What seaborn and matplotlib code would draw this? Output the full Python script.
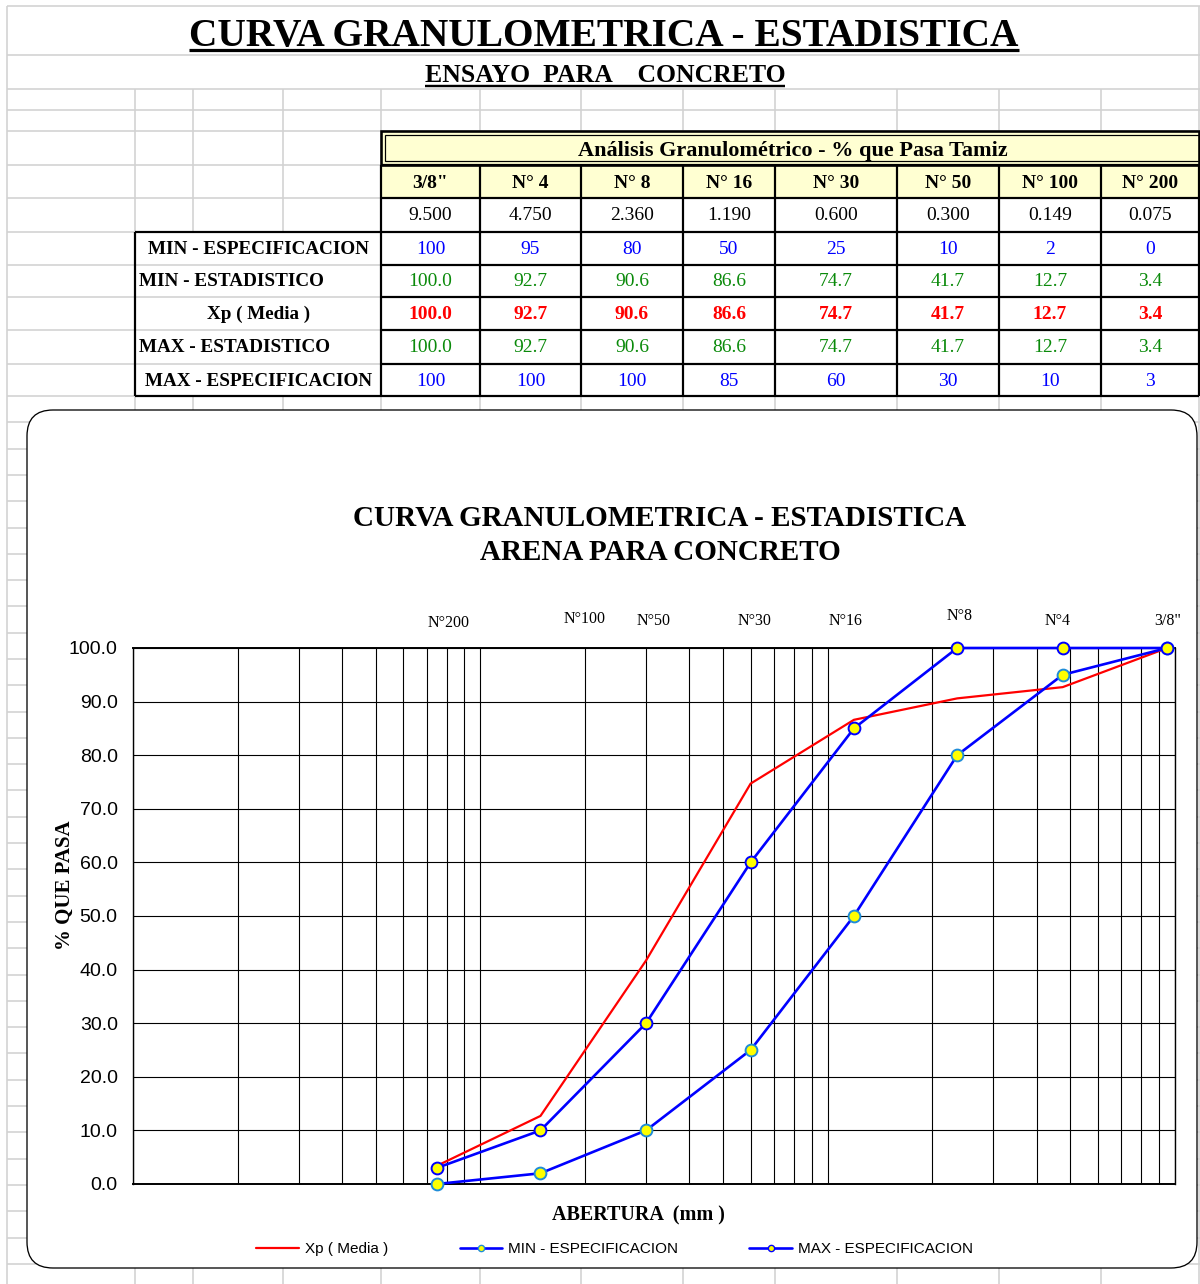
import numpy as np
import pandas as pd
import matplotlib
matplotlib.use("Agg")
import matplotlib.pyplot as plt
import seaborn as sns
from matplotlib.patches import FancyBboxPatch, Rectangle
from matplotlib.lines import Line2D
from matplotlib.ticker import LogLocator, NullFormatter, FormatStrFormatter

# ---------------- data ----------------
sieve_names = ['3/8"', 'N° 4', 'N° 8', 'N° 16', 'N° 30', 'N° 50', 'N° 100', 'N° 200']
chart_sieve_labels = ['3/8"', 'N°4', 'N°8', 'N°16', 'N°30', 'N°50', 'N°100', 'N°200']
abertura_mm = [9.500, 4.750, 2.360, 1.190, 0.600, 0.300, 0.149, 0.075]
min_especificacion = [100, 95, 80, 50, 25, 10, 2, 0]
min_estadistico = [100.0, 92.7, 90.6, 86.6, 74.7, 41.7, 12.7, 3.4]
xp_media = [100.0, 92.7, 90.6, 86.6, 74.7, 41.7, 12.7, 3.4]
max_estadistico = [100.0, 92.7, 90.6, 86.6, 74.7, 41.7, 12.7, 3.4]
max_especificacion = [100, 100, 100, 85, 60, 30, 10, 3]
y_ticks = [0, 10, 20, 30, 40, 50, 60, 70, 80, 90, 100]
row_labels = ['MIN - ESPECIFICACION', 'MIN - ESTADISTICO', 'Xp ( Media )',
              'MAX - ESTADISTICO', 'MAX - ESPECIFICACION']

# label placement tweaks (pixels) for the sieve names above the chart
label_dx = [0, -5, 2, -8, 4, 8, 44, 12]
label_dy = [0, 0, 5, 0, 0, 0, 2, -2]

SERIF = ['Liberation Serif', 'DejaVu Serif']
SANS = ['Liberation Sans', 'DejaVu Sans']

sns.set_style('white')
plt.rcParams['font.family'] = SANS
plt.rcParams['text.color'] = 'black'
plt.rcParams['axes.labelcolor'] = 'black'
plt.rcParams['xtick.color'] = 'black'
plt.rcParams['ytick.color'] = 'black'

W, H = 1200, 1284
fig = plt.figure(figsize=(12, 12.84), dpi=100)
bg = fig.add_axes([0, 0, 1, 1])
bg.set_xlim(0, W)
bg.set_ylim(H, 0)
bg.axis('off')

GRAY = '#d2d2d2'
PX = 0.72  # points per pixel


def hl(y, x0, x1, c=GRAY, lw=1.6, z=1):
    bg.plot([x0, x1], [y, y], color=c, lw=lw * PX, zorder=z, solid_capstyle='butt')


def vl(x, y0, y1, c=GRAY, lw=1.6, z=1):
    bg.plot([x, x], [y0, y1], color=c, lw=lw * PX, zorder=z, solid_capstyle='butt')


# ---------------- spreadsheet grid ----------------
cols_all = [135, 193, 283, 381, 480, 581, 683, 775, 897, 999, 1101]
hl(6, 7, W)
for y in [55, 89, 110, 131]:
    hl(y, 7, W)
for y in [165, 198, 232]:
    hl(y, 7, 381)
for y in [265, 297, 330, 364]:
    hl(y, 7, 135)
vl(7, 6, H)
vl(1199, 6, H)
for x in cols_all:
    vl(x, 89, 131)
for x in [135, 193, 283]:
    vl(x, 131, 232)
y = 396.0
while y < H:
    hl(y, 7, W)
    y += 26.3
for x in cols_all:
    vl(x, 396, H)

# ---------------- titles ----------------
t1 = bg.text(604, 46, 'CURVA GRANULOMETRICA - ESTADISTICA', ha='center', va='baseline',
             fontsize=28.4, fontweight='bold', family=SERIF, zorder=5)
t2 = bg.text(605, 82, 'ENSAYO  PARA    CONCRETO', ha='center', va='baseline',
             fontsize=18.5, fontweight='bold', family=SERIF, zorder=5)

# ---------------- table ----------------
cols = [381, 480, 581, 683, 775, 897, 999, 1101, 1199]
rows_y = [131, 165, 198, 232, 265, 297, 330, 364, 396]
YELLOW = '#FFFFD2'
bg.add_patch(Rectangle((381, 131), 1199 - 381, 198 - 131, fc=YELLOW, ec='none', zorder=2))
# double border header
bg.add_patch(Rectangle((381, 131), 1199 - 381, 34, fc='none', ec='black', lw=2.6 * PX, zorder=4))
bg.add_patch(Rectangle((385, 135), 1199 - 385, 26, fc='none', ec='black', lw=1.2 * PX, zorder=4))
bg.text(793, 151, 'Análisis Granulométrico - % que Pasa Tamiz', ha='center', va='center',
        fontsize=16, fontweight='bold', family=SERIF, zorder=5)
BL = 2.2
for y in [165, 198, 232, 265, 297, 330, 364, 396]:
    hl(y, 381, 1199, c='black', lw=BL, z=4)
for x in cols:
    vl(x, 165, 396, c='black', lw=BL, z=4)
# label column box
hl(232, 135, 381, c='black', lw=BL, z=4)
hl(396, 135, 381, c='black', lw=BL, z=4)
vl(135, 232, 396, c='black', lw=BL, z=4)
for y in [265, 297, 330, 364]:
    hl(y, 135, 381, c=GRAY, lw=1.6, z=3)

centers = [(cols[i] + cols[i + 1]) / 2 for i in range(8)]
for cx, nm, d in zip(centers, sieve_names, abertura_mm):
    bg.text(cx, 183, nm, ha='center', va='center', fontsize=14, fontweight='bold', family=SERIF, zorder=5)
    bg.text(cx, 216, f'{d:.3f}', ha='center', va='center', fontsize=14, family=SERIF, zorder=5)

row_series = [min_especificacion, min_estadistico, xp_media, max_estadistico, max_especificacion]
row_fmt = ['{:.0f}', '{:.1f}', '{:.1f}', '{:.1f}', '{:.0f}']
row_col = ['#0000FF', '#0A8A0A', '#FF0000', '#0A8A0A', '#0000FF']
row_bold = ['normal', 'normal', 'bold', 'normal', 'normal']
label_ha = ['center', 'left', 'center', 'left', 'center']
for i in range(5):
    yc = (rows_y[i + 3] + rows_y[i + 4]) / 2 + 1
    lx = 259 if label_ha[i] == 'center' else 139
    bg.text(lx, yc, row_labels[i], ha=label_ha[i], va='center', fontsize=13.8, fontweight='bold',
            family=SERIF, zorder=5)
    for cx, v in zip(centers, row_series[i]):
        bg.text(cx, yc, row_fmt[i].format(v), ha='center', va='center', fontsize=14,
                fontweight=row_bold[i], color=row_col[i], family=SERIF, zorder=5)

# ---------------- chart area box ----------------
bg.add_patch(FancyBboxPatch((27, 410), 1170, 858, boxstyle='round,pad=0,rounding_size=26',
                            fc='white', ec='black', lw=1.3 * PX, zorder=6))
bg.text(660, 518, 'CURVA GRANULOMETRICA - ESTADISTICA', ha='center', va='center',
        fontsize=21, fontweight='bold', family=SERIF, zorder=7)
bg.text(660, 552, 'ARENA PARA CONCRETO', ha='center', va='center',
        fontsize=21, fontweight='bold', family=SERIF, zorder=7)

# ---------------- chart ----------------
L, R, T, B = 133, 1175, 648, 1184
ax = fig.add_axes([L / W, 1 - B / H, (R - L) / W, (B - T) / H])
ax.set_zorder(10)
ax.set_facecolor('white')
ax.set_xscale('log')
ax.set_xlim(0.01, 10)
ax.set_ylim(0, 100)
ax.xaxis.set_major_locator(LogLocator(base=10))
ax.xaxis.set_minor_locator(LogLocator(base=10, subs=np.arange(2, 10)))
ax.xaxis.set_major_formatter(NullFormatter())
ax.xaxis.set_minor_formatter(NullFormatter())
ax.tick_params(axis='x', which='both', length=0)
ax.set_yticks(y_ticks)
ax.yaxis.set_major_formatter(FormatStrFormatter('%.1f'))
ax.tick_params(axis='y', length=5, width=0.8, direction='out', color='black',
               labelsize=14, pad=6, labelcolor='black')
for lab in ax.get_yticklabels():
    lab.set_family(SANS)
ax.grid(True, which='both', axis='x', color='black', lw=0.8)
ax.grid(True, which='major', axis='y', color='black', lw=0.8)
for s in ax.spines.values():
    s.set_color('black')
    s.set_linewidth(1.0)
ax.spines['bottom'].set_linewidth(1.4)
ax.spines['top'].set_linewidth(1.4)

MIN_EDGE = '#1E8CD8'
sns.lineplot(x=abertura_mm, y=xp_media, ax=ax, color='#FF0000', lw=1.6, zorder=3,
             clip_on=False, legend=False)
sns.lineplot(x=abertura_mm, y=min_especificacion, ax=ax, color='#0000FF', lw=1.9, zorder=4,
             marker='o', markersize=8.5, markerfacecolor='#FFFF00', markeredgecolor=MIN_EDGE,
             markeredgewidth=1.4, clip_on=False, legend=False)
sns.lineplot(x=abertura_mm, y=max_especificacion, ax=ax, color='#0000FF', lw=1.9, zorder=5,
             marker='o', markersize=8.5, markerfacecolor='#FFFF00', markeredgecolor='#0000FF',
             markeredgewidth=1.4, clip_on=False, legend=False)

for d, lab, dx, dy in zip(abertura_mm, chart_sieve_labels, label_dx, label_dy):
    ax.annotate(lab, xy=(d, 1.0), xycoords=('data', 'axes fraction'), xytext=(dx, 27 + dy),
                textcoords='offset pixels', ha='center', va='center', fontsize=11.5,
                family=SERIF, annotation_clip=False)

ax.set_ylabel('% QUE PASA', fontsize=15, fontweight='bold', family=SERIF)
ax.yaxis.set_label_coords((75 - L) / (R - L), (B - 885) / (B - T))
ax.set_xlabel('ABERTURA  (mm )', fontsize=14.5, fontweight='bold', family=SERIF)
ax.xaxis.set_label_coords((638 - L) / (R - L), (B - 1205) / (B - T))

handles = [
    Line2D([], [], color='#FF0000', lw=1.6),
    Line2D([], [], color='#0000FF', lw=1.9, marker='o', markersize=4.5, markerfacecolor='#FFFF00',
           markeredgecolor=MIN_EDGE, markeredgewidth=1.0),
    Line2D([], [], color='#0000FF', lw=1.9, marker='o', markersize=4.5, markerfacecolor='#FFFF00',
           markeredgecolor='#0000FF', markeredgewidth=1.0),
]
leg = fig.legend(handles, ['Xp ( Media )', 'MIN - ESPECIFICACION', 'MAX - ESPECIFICACION'],
                 loc='center', bbox_to_anchor=(614.5 / W, 1 - 1249 / H), ncol=3, frameon=False,
                 prop={'family': SANS, 'size': 11}, handlelength=2.8, columnspacing=4.7,
                 handletextpad=0.35)
leg.set_zorder(20)
for tx in leg.get_texts():
    tx.set_color('black')

# ---------------- underlines ----------------
fig.canvas.draw()
r = fig.canvas.get_renderer()
inv = bg.transData.inverted()
for t, off, lw in [(t1, 4, 3.2), (t2, 4, 2.4)]:
    bb = t.get_window_extent(renderer=r)
    (x0, _), (x1, _) = inv.transform([[bb.x0, bb.y0], [bb.x1, bb.y1]])
    y0 = t.get_position()[1] + off
    hl(y0, x0, x1, c='black', lw=lw, z=5)

fig.savefig('out.png', dpi=100)
